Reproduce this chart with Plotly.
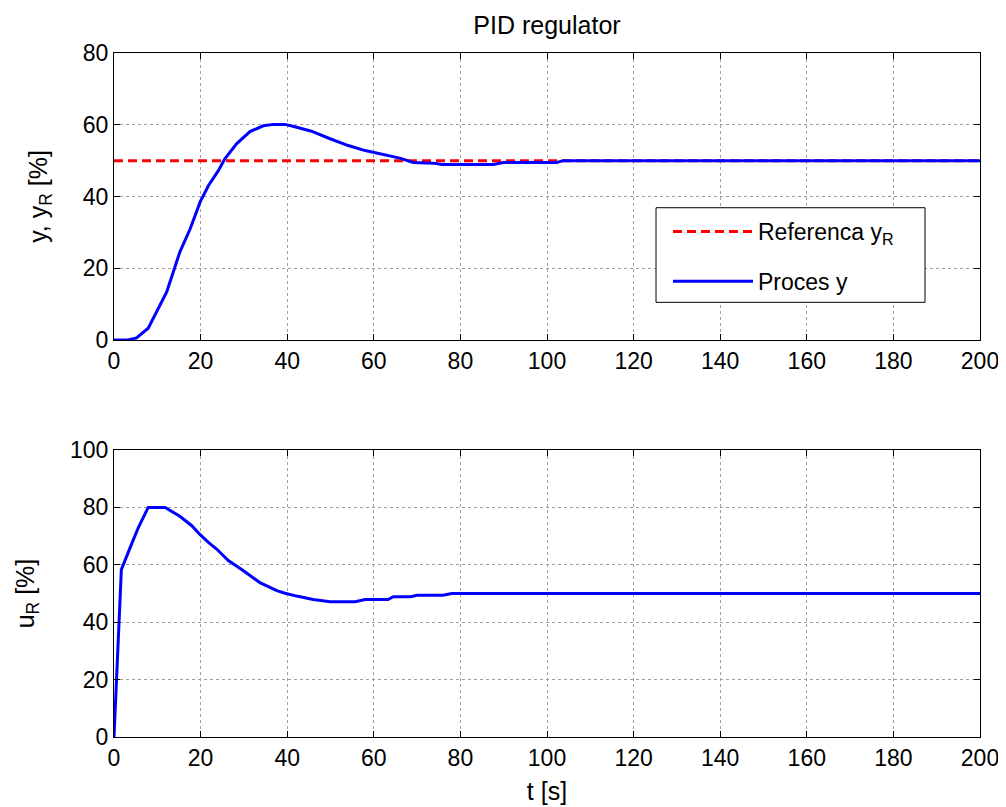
import plotly.graph_objects as go

# ---- data ----
t_ref = [0, 200]
y_ref = [50, 50]

t_y = [0, 3.3, 5.2, 7.9, 12.2, 13.7, 15.2, 17.6, 19.9, 21.8, 24.1, 25.6, 28.3,
       31.4, 34.5, 36.8, 39.5, 42.2, 45.6, 49.9, 54.1, 58, 62.2, 66, 69.1,
       73.8, 75.7, 87.6, 89.9, 102.2, 103.8, 200]
y_proc = [0, 0, 0.6, 3.3, 13.5, 19, 24.5, 31, 38.5, 43, 47.2, 50.5, 54.7,
          58.1, 59.7, 60.1, 60.1, 59.3, 58.2, 56.1, 54.2, 52.8, 51.7, 50.7, 49.5,
          49.3, 48.9, 48.9, 49.5, 49.5, 50, 50]

t_u = [0, 1.7, 3.7, 5.6, 7.9, 11.8, 15.2, 17.9, 19.9, 21.8, 23.7, 26.4, 29.9,
       33.7, 37.6, 39.5, 42.2, 46, 49.9, 55.7, 58, 63.3, 64.5, 68.5, 70, 76,
       78, 200]
u_R = [0, 58.3, 65.9, 72.9, 80, 80, 76.9, 73.7, 70.5, 67.8, 65.5, 61.5, 57.9,
       53.8, 51, 50.1, 49.1, 47.9, 47.1, 47.1, 47.9, 47.9, 48.9, 48.9, 49.4, 49.4,
       50, 50]

x_ticks = list(range(0, 201, 20))
y1_ticks = list(range(0, 81, 20))
y2_ticks = list(range(0, 101, 20))

FONT = "Liberation Sans, Arial, sans-serif"
TICK_SIZE = 23
LABEL_SIZE = 25

fig = go.Figure()

fig.add_trace(go.Scatter(x=t_ref, y=y_ref, mode="lines", name="Referenca y<sub>R</sub>",
                         legendgroup="ref",
                         line=dict(color="#ff0000", width=3, dash="9px,5px"),
                         xaxis="x", yaxis="y"))
fig.add_trace(go.Scatter(x=t_y, y=y_proc, mode="lines", name="Proces y",
                         legendgroup="proc",
                         line=dict(color="#0000ff", width=3),
                         xaxis="x", yaxis="y"))
fig.add_trace(go.Scatter(x=t_u, y=u_R, mode="lines", showlegend=False,
                         line=dict(color="#0000ff", width=3),
                         xaxis="x2", yaxis="y2"))

axis_common = dict(showline=True, linecolor="black", linewidth=1, mirror="ticks",
                   ticks="inside", ticklen=6, tickcolor="black",
                   showgrid=True, gridcolor="#a0a0a0", griddash="dot", gridwidth=1,
                   zeroline=False, automargin=False,
                   tickfont=dict(size=TICK_SIZE, color="black", family=FONT))

title_font = dict(size=LABEL_SIZE, family=FONT, color="black")

fig.update_layout(
    xaxis=dict(domain=[0, 1], anchor="y", range=[0, 200], tickvals=x_ticks, **axis_common),
    yaxis=dict(domain=[0.5804, 1], anchor="x", range=[0, 80], tickvals=y1_ticks,
               title=dict(text="y, y<sub>R</sub> [%]", font=title_font, standoff=28),
               **axis_common),
    xaxis2=dict(domain=[0, 1], anchor="y2", range=[0, 200], tickvals=x_ticks,
                title=dict(text="t [s]", font=title_font, standoff=12),
                **axis_common),
    yaxis2=dict(domain=[0, 0.4196], anchor="x2", range=[0, 100], tickvals=y2_ticks,
                title=dict(text="u<sub>R</sub> [%]", font=title_font, standoff=28),
                **axis_common),
)

# legend frame (white box behind the legend entries)
fig.add_shape(type="rect", xref="x domain", yref="paper",
              x0=0.6259, x1=0.9365, y0=0.6355, y1=0.7738,
              line=dict(color="black", width=1), fillcolor="white", layer="above")

# page has an 8px body margin, so the figure is offset by (8, 8)
fig.update_layout(
    width=998, height=799,
    margin=dict(l=106, r=26, t=45, b=70),
    paper_bgcolor="white", plot_bgcolor="white",
    font=dict(family=FONT, size=TICK_SIZE, color="black"),
    title=dict(text="PID regulator", x=0.5, xref="paper", xanchor="center",
               y=1 - 17 / 799, yanchor="middle",
               font=dict(size=LABEL_SIZE, family=FONT, color="black")),
    legend=dict(x=0.6397, y=0.7705, xanchor="left", yanchor="top",
                borderwidth=0, bgcolor="rgba(0,0,0,0)",
                font=dict(size=TICK_SIZE, family=FONT, color="black"),
                itemwidth=80, tracegroupgap=17),
)

fig.write_html("out.html")
